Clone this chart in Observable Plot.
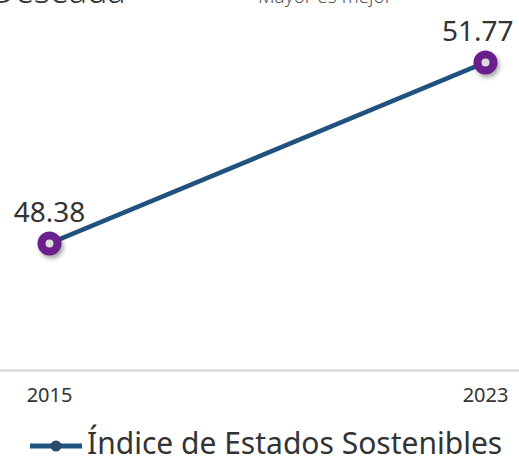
<!DOCTYPE html>
<html>
<head>
<meta charset="utf-8">
<script src="https://cdn.jsdelivr.net/npm/d3@7"></script>
<script src="https://cdn.jsdelivr.net/npm/@observablehq/plot@0.6"></script>
<style>
  html, body { margin: 0; padding: 0; background: #fff; overflow: hidden; }
  body { width: 519px; height: 462px; position: relative; font-family: "Noto Sans", sans-serif; }
  .hdr { position: absolute; white-space: nowrap; font-weight: 300; line-height: 1; }
  #t1 { left: -9px; top: -27px; font-size: 34px; color: #333; }
  #t2 { left: 258px; top: -13px; font-size: 19px; color: #555; }
  #chart { position: absolute; left: 0; top: 0; }
  #legend { position: absolute; left: 28px; top: 426px; height: 34px; line-height: 34px; display: flex; align-items: center; font-size: 30px; color: #333; white-space: nowrap; }
</style>
</head>
<body>
<div id="chart"></div>
<div class="hdr" id="t1">Deseada</div>
<div class="hdr" id="t2">Mayor es mejor</div>
<div id="legend"></div>
<script>
const years = [2015, 2023];
const values = [48.38, 51.77];
const seriesName = "Índice de Estados Sostenibles";
const tickLabels = ["2015", "2023"];

const data = years.map((y, i) => ({year: y, value: values[i]}));
const lineColor = "#1f527f";
const dotColor = "#6a1f8c";

const chart = Plot.plot({
  width: 519,
  height: 415,
  marginLeft: 49,
  marginRight: 34,
  marginTop: 0,
  marginBottom: 45,
  style: {fontFamily: "'Noto Sans', sans-serif", background: "transparent", overflow: "visible"},
  x: {domain: [2015, 2023], label: null},
  y: {domain: [46, 52.93], axis: null},
  marks: [
    Plot.ruleY([46], {stroke: "#d4d4d4", strokeWidth: 2, insetLeft: -49, insetRight: -34}),
    Plot.axisX({ticks: years, tickFormat: d => tickLabels[years.indexOf(d)], tickSize: 0, tickPadding: 17, fontSize: 20, fill: "#333", fontWeight: "normal", label: null}),
    Plot.line(data, {x: "year", y: "value", stroke: lineColor, strokeWidth: 4.5}),
    Plot.dot(data, {x: "year", y: "value", r: 8, fill: "#dcdcdc", stroke: dotColor, strokeWidth: 8}),
    Plot.text(data.slice(0, 1), {x: "year", y: "value", text: d => d.value.toFixed(2), dy: -21, lineAnchor: "bottom", fontSize: 28, fill: "#333", fontWeight: "normal"}),
    Plot.text(data.slice(1), {x: "year", y: "value", text: d => d.value.toFixed(2), dy: -21, dx: 28, textAnchor: "end", lineAnchor: "bottom", fontSize: 28, fill: "#333", fontWeight: "normal"})
  ]
});
chart.querySelectorAll("circle").forEach(c => c.style.filter = "drop-shadow(2px 3px 2px rgba(0,0,0,0.35))");
document.getElementById("chart").appendChild(chart);

const legend = document.getElementById("legend");
legend.innerHTML = `<svg width="56" height="20" style="margin-right:3px;position:relative;top:3px"><line x1="2" x2="54" y1="10" y2="10" stroke="${lineColor}" stroke-width="5"/><circle cx="28" cy="10" r="5.5" fill="#2a4a6e"/></svg><span>${seriesName}</span>`;
</script>
</body>
</html>
